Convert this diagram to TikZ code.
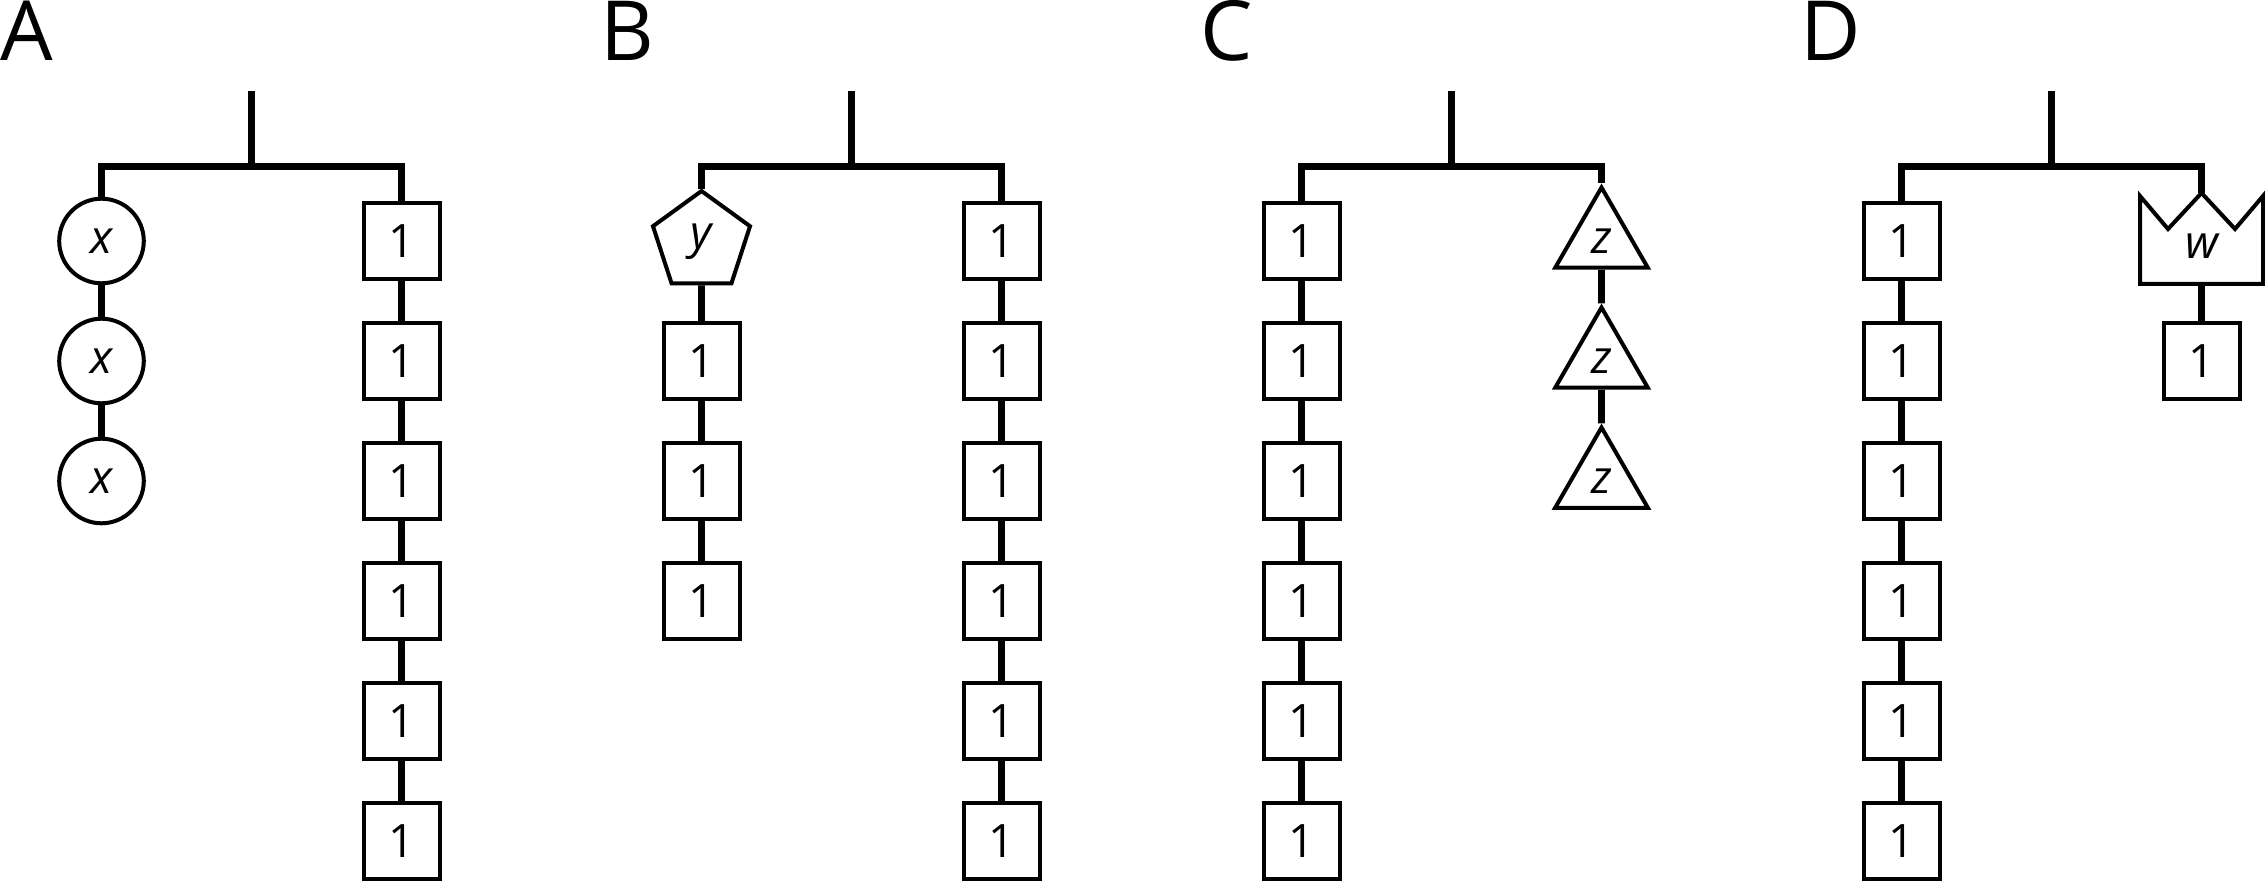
\documentclass[tikz,border=0pt]{standalone}
\usepackage{fontspec}
\setmainfont{Open Sans}
\usetikzlibrary{shapes.geometric}
\begin{document}
\begin{tikzpicture}[x=1pt,y=-1pt,
  conn/.style={line width=6.7pt},
  outl/.style={draw, line width=4pt, inner sep=0pt, fill=white, font=\fontsize{46}{50}\selectfont},
  sqbox/.style={outl, rectangle, minimum size=76pt},
  circbox/.style={outl, circle, minimum size=84.6pt},
  pentbox/.style={outl, regular polygon, regular polygon sides=5, minimum size=102pt},
  tribox/.style={outl, regular polygon, regular polygon sides=3, minimum size=107pt},
  crownline/.style={line width=4pt, line join=miter},
  varlabel/.style={inner sep=0pt, font=\fontsize{46}{50}\selectfont\itshape},
  panellabel/.style={anchor=base west, inner sep=0pt, font=\fontsize{83}{90}\selectfont}]
\useasboundingbox (0,0) rectangle (2265,882);

% panel letters
\node[panellabel] (labA) at (0,61) {A};
\node[panellabel] (labB) at (600,61) {B};
\node[panellabel] (labC) at (1200,61) {C};
\node[panellabel] (labD) at (1800,61) {D};

% ---------- Panel A ----------
\foreach \i in {0,1,2} \node[circbox] (AL\i) at (101.5,241+120*\i) {\itshape x};
\foreach \i in {0,...,5} \node[sqbox] (AR\i) at (401.5,241+120*\i) {1};
% ---------- Panel B ----------
\node[pentbox] (BL0) at (701.5,242) {\itshape y};
\foreach \i in {1,2,3} \node[sqbox] (BL\i) at (701.5,241+120*\i) {1};
\foreach \i in {0,...,5} \node[sqbox] (BR\i) at (1001.5,241+120*\i) {1};
% ---------- Panel C ----------
\foreach \i in {0,...,5} \node[sqbox] (CL\i) at (1301.5,241+120*\i) {1};
\foreach \i in {0,1,2} \node[tribox] (CR\i) at (1601.5,241+120*\i) {\itshape z};
% ---------- Panel D ----------
\foreach \i in {0,...,5} \node[sqbox] (DL\i) at (1901.5,241+120*\i) {1};
\coordinate (DR0top) at (2201.5,193);
\coordinate (DR0bot) at (2201.5,284);
\draw[crownline, fill=white] (2140,196) -- (2168,229) -- (DR0top) -- (2235,229) -- (2263,196)
  -- (2263,284) -- (DR0bot) -- (2140,284) -- cycle;
\node[varlabel] (DR0) at (2201.5,246) {w};
\node[sqbox] (DR1) at (2201.5,361) {1};

% ---------- stems and bars ----------
\foreach \p/\o in {A/0,B/600,C/1200,D/1800} {
  \coordinate (\p top) at (251.5+\o,91.5);
  \coordinate (\p bar) at (251.5+\o,166.5);
  \draw[conn] (\p top) -- (\p bar);
}
\draw[conn] (AL0.north) |- (Abar) -| (AR0.north);
\draw[conn] (BL0.north) |- (Bbar) -| (BR0.north);
\draw[conn] (CL0.north) |- (Cbar) -| (CR0.north);
\draw[conn] (DL0.north) |- (Dbar) -| (DR0top);

% ---------- chains ----------
\foreach \i in {0,1} {\pgfmathtruncatemacro\j{\i+1}\draw[conn] (AL\i.south) -- (AL\j.north);}
\foreach \i in {0,...,4} {\pgfmathtruncatemacro\j{\i+1}\draw[conn] (AR\i.south) -- (AR\j.north);}
\foreach \i in {0,1,2} {\pgfmathtruncatemacro\j{\i+1}\draw[conn] (BL\i.south) -- (BL\j.north);}
\foreach \i in {0,...,4} {\pgfmathtruncatemacro\j{\i+1}\draw[conn] (BR\i.south) -- (BR\j.north);}
\foreach \i in {0,...,4} {\pgfmathtruncatemacro\j{\i+1}\draw[conn] (CL\i.south) -- (CL\j.north);}
\foreach \i in {0,1} {\pgfmathtruncatemacro\j{\i+1}\draw[conn] (CR\i.south) -- (CR\j.north);}
\foreach \i in {0,...,4} {\pgfmathtruncatemacro\j{\i+1}\draw[conn] (DL\i.south) -- (DL\j.north);}
\draw[conn] (DR0bot) -- (DR1.north);
\end{tikzpicture}
\end{document}
